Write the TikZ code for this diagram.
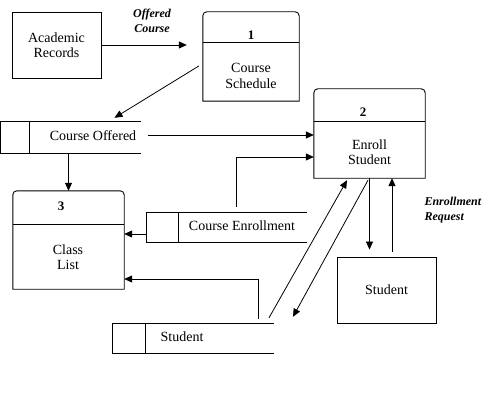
\documentclass[tikz,border=0pt]{standalone}
\usepackage{fontspec}
\setmainfont{Liberation Serif}
\usetikzlibrary{arrows.meta, calc}

\begin{document}
\begin{tikzpicture}[x = 1pt, y = -1pt,
  box/.style = {draw, line width = 0.9pt, inner sep = 0pt},
  proc/.style = {inner sep = 0pt},
  store/.style = {inner sep = 0pt},
  flow/.style = {line width = 0.8pt, -{Triangle[length = 8pt, width = 7pt]}},
  txt/.style = {font = \fontsize{14}{15.5}\selectfont, align = center},
  num/.style = {font = \fontsize{13}{15}\selectfont\bfseries},
  lbl/.style = {font = \fontsize{12}{15}\selectfont\bfseries\itshape}]

\useasboundingbox (0, 0) rectangle (500, 409);

% external entities
\node[box, txt, minimum width = 89, minimum height = 66] (records) at (56.5, 45) {Academic\\Records};
\node[box, txt, minimum width = 99, minimum height = 66] (student) at (386.5, 290) {Student};

% processes
\node[proc, minimum width = 96, minimum height = 89] (sched) at (251, 56.5) {};
\node[proc, minimum width = 111, minimum height = 89] (enroll) at (369.5, 133.5) {};
\node[proc, minimum width = 111, minimum height = 98] (classlist) at (68.5, 240) {};

\foreach \p/\h in {sched/31, enroll/33, classlist/34} {
  \draw[line width = 0.9pt] (\p.south west) [rounded corners = 4pt] -- (\p.north west) -- (\p.north east) [sharp corners] -- (\p.south east) -- cycle;
  \draw[line width = 0.9pt] ($(\p.north west) + (0, \h)$) -- ($(\p.north east) + (0, \h)$);
}

\node[num] (sched-no) at (251, 35) {1};
\node[txt] (sched-name) at (251, 76) {Course\\Schedule};
\node[num] (enroll-no) at (363, 112) {2};
\node[txt] (enroll-name) at (369.5, 152) {Enroll\\Student};
\node[num] (class-no) at (61, 206) {3};
\node[txt] (class-name) at (68, 257) {Class\\List};

% data stores
\node[store, minimum width = 140, minimum height = 31] (offered) at (70.5, 137.5) {};
\node[store, minimum width = 160, minimum height = 29] (cenroll) at (227, 227.5) {};
\node[store, minimum width = 161, minimum height = 29] (sstore) at (193.5, 338.5) {};

\foreach \s/\w in {offered/29, cenroll/32, sstore/33} {
  \draw[line width = 0.9pt] (\s.north east) -- (\s.north west) -- (\s.south west) -- (\s.south east);
  \draw[line width = 0.9pt] ($(\s.north west) + (\w, 0)$) -- ($(\s.south west) + (\w, 0)$);
}

\node[txt] (offered-name) at (93, 136) {Course Offered};
\node[txt] (cenroll-name) at (242, 226) {Course Enrollment};
\node[txt] (sstore-name) at (182, 337) {Student};

% flows
\draw[flow] (records.east) -- ($(records.east -| sched.west) + (-16, 0)$);
\draw[flow] ($(sched.west) + (-4, 9.5)$) -- ($(offered.north) + (44, -4)$);
\draw[flow] ($(offered.east) + (7, -2.5)$) -- ($(enroll.west) + (0, 1.5)$);
\draw[flow] (classlist.north |- offered.south) -- (classlist.north);
\draw[flow] ($(cenroll.north) + (9, -6)$) |- ($(enroll.west) + (0, 23.5)$);
\draw[flow] ($(cenroll.west) + (0, 6.5)$) -- ($(cenroll.west -| classlist.east) + (0, 6.5)$);
\draw[flow] ($(sstore.north) + (64.5, -5)$) |- ($(classlist.east) + (0, 39)$);
\draw[flow] ($(sstore.north) + (75.5, -6)$) -- ($(enroll.south) + (-22.5, 2)$);
\draw[flow] ($(enroll.south) + (-1.5, 2)$) -- ($(sstore.north) + (99.5, -7)$);
\draw[flow] (enroll.south) -- ($(enroll.south |- student.north) + (0, -7)$);
\draw[flow] ($(student.north) + (5.5, -5)$) -- ($(enroll.south) + (22.5, 0)$);

\node[lbl, align = center] (offered-lbl) at (152, 21) {Offered\\Course};
\node[lbl, align = left, anchor = west] (request-lbl) at (421, 210) {Enrollment\\Request};

\end{tikzpicture}
\end{document}
